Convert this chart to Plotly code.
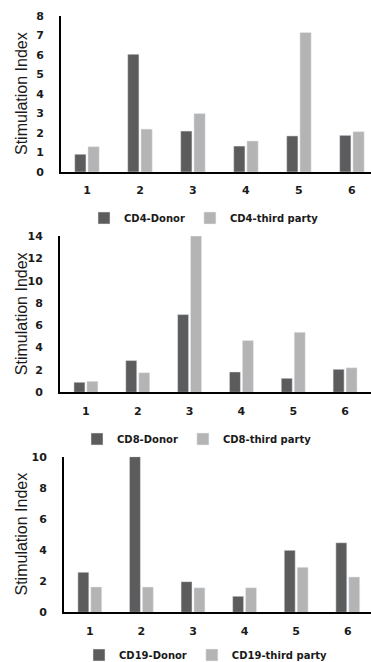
import plotly.graph_objects as go

categories = ["1", "2", "3", "4", "5", "6"]

cd4_donor = [0.91, 6.04, 2.10, 1.33, 1.85, 1.88]
cd4_third = [1.30, 2.20, 3.00, 1.59, 7.16, 2.07]

cd8_donor = [0.90, 2.84, 6.96, 1.82, 1.25, 2.06]
cd8_third = [0.98, 1.76, 14.0, 4.63, 5.38, 2.20]

cd19_donor = [2.57, 10.0, 1.97, 1.03, 3.98, 4.47]
cd19_third = [1.63, 1.63, 1.58, 1.58, 2.89, 2.27]

W, H = 371, 662
DARK = "#5c5c5c"
LIGHT = "#b4b4b4"
TICKFONT = dict(family="DejaVu Sans", size=11, color="#1a1a1a", weight="bold")
LEGFONT = dict(family="DejaVu Sans", size=10, color="#1a1a1a", weight="bold")

panels = [
    dict(x0=61, top=16, zero=172, ymax=8, dtick=1, xr=[0.51, 6.36],
         d=cd4_donor, t=cd4_third, names=("CD4-Donor", "CD4-third party"), legy=218, legx=84),
    dict(x0=60, top=236, zero=392.3, ymax=14, dtick=2, xr=[0.5, 6.5],
         d=cd8_donor, t=cd8_third, names=("CD8-Donor", "CD8-third party"), legy=439, legx=77),
    dict(x0=64, top=456.7, zero=612.3, ymax=10, dtick=2, xr=[0.5, 6.45],
         d=cd19_donor, t=cd19_third, names=("CD19-Donor", "CD19-third party"), legy=655, legx=79),
]

fig = go.Figure()
layout = dict(
    width=W, height=H,
    margin=dict(l=0, r=0, t=0, b=0, autoexpand=False),
    paper_bgcolor="white", plot_bgcolor="white",
    barmode="group", bargap=0.5, bargroupgap=0.15,
    annotations=[],
)

for i, p in enumerate(panels):
    n = "" if i == 0 else str(i + 1)
    xa, ya = "x" + n, "y" + n
    leg = "legend" + n
    fig.add_trace(go.Bar(x=categories, y=p["d"], name=p["names"][0], marker_color=DARK,
                         xaxis=xa, yaxis=ya, legend=leg))
    fig.add_trace(go.Bar(x=categories, y=p["t"], name=p["names"][1], marker_color=LIGHT,
                         xaxis=xa, yaxis=ya, legend=leg))
    layout["xaxis" + n] = dict(
        domain=[p["x0"] / W, 1], anchor=ya, type="category",
        range=[p["xr"][0] - 1, p["xr"][1] - 1], automargin=False,
        showline=True, linecolor="black", linewidth=2, showgrid=False, zeroline=False,
        ticks="", tickfont=TICKFONT, ticklabelstandoff=7, fixedrange=True,
    )
    layout["yaxis" + n] = dict(
        domain=[(H - p["zero"]) / H, (H - p["top"]) / H], anchor=xa,
        range=[0, p["ymax"]], dtick=p["dtick"], automargin=False,
        showline=True, linecolor="black", linewidth=2, showgrid=False, zeroline=False,
        ticks="", tickfont=TICKFONT, ticklabelstandoff=13, fixedrange=True,
    )
    layout[leg] = dict(
        orientation="h", x=p["legx"] / W, xanchor="left",
        y=(H - p["legy"]) / H, yanchor="middle",
        font=LEGFONT, bgcolor="rgba(0,0,0,0)", itemclick=False,
    )
    layout["annotations"].append(dict(
        text="Stimulation Index", textangle=-90, showarrow=False,
        xref="paper", yref="paper", x=21 / W, y=(H - (p["top"] + p["zero"]) / 2) / H,
        xanchor="center", yanchor="middle",
        font=dict(family="Liberation Sans", size=16, color="#1a1a1a"),
    ))

fig.update_layout(**layout)
fig.write_html(
    "out.html",
    config={"displayModeBar": False},
    post_script="document.body.style.margin='0';document.body.style.overflow='hidden';window.dispatchEvent(new Event('resize'));",
)
